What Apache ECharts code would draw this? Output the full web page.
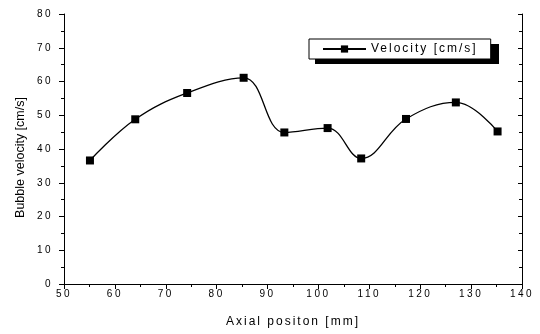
<!DOCTYPE html>
<html><head><meta charset="utf-8">
<script src="https://cdn.jsdelivr.net/npm/echarts@6/dist/echarts.min.js"></script>
<style>html,body{margin:0;padding:0;background:#fff}#c{width:540px;height:334px}</style>
</head><body><div id="c"></div>
<script>
const axialPosition = [55.1, 64.0, 74.2, 85.3, 93.3, 101.8, 108.4, 117.2, 127.0, 135.2];
const velocity = [36.6, 48.8, 56.6, 61.1, 44.9, 46.2, 37.2, 48.9, 53.8, 45.2];
const seriesName = 'Velocity [cm/s]';
const xTitle = 'Axial positon [mm]';
const yTitle = 'Bubble velocity [cm/s]';

// Origin-style spaced lettering (applied by font size; the 12.5px y-title stays unspaced)
(function () {
  const P = CanvasRenderingContext2D.prototype;
  if (!('letterSpacing' in P)) return;
  const spacing = (font) => {
    const m = /(\d+(?:\.\d+)?)px/.exec(font || '');
    const s = m ? +m[1] : 12;
    if (s >= 12.5) return '0px';
    if (s >= 12) return '2px';
    return '2.5px';
  };
  ['fillText', 'strokeText', 'measureText'].forEach((fn) => {
    const orig = P[fn];
    P[fn] = function () { this.letterSpacing = spacing(this.font); return orig.apply(this, arguments); };
  });
})();

const font = 'Liberation Sans, Arial, sans-serif';
const chart = echarts.init(document.getElementById('c'));
const tickStyle = {color: '#000', width: 1};
chart.setOption({
  animation: false,
  backgroundColor: '#fff',
  grid: {left: 64, right: 18, top: 14, bottom: 49, containLabel: false},
  graphic: [{
    type: 'text', x: 21, y: 157.5, rotation: Math.PI / 2,
    style: {text: yTitle, align: 'center', verticalAlign: 'middle',
            font: '12.5px Liberation Sans, Arial, sans-serif', fill: '#000'}
  }, {
    // drop shadow behind the legend frame
    type: 'rect', z: 1, shape: {x: 315, y: 44, width: 184, height: 20},
    style: {fill: '#000'}
  }],
  legend: {
    data: [seriesName],
    left: 309, top: 39, z: 10,
    backgroundColor: '#fff', borderColor: '#000', borderWidth: 1,
    padding: [3, 13, 3, 13],
    itemWidth: 43, itemHeight: 9, itemGap: 4,
    textStyle: {fontFamily: font, fontSize: 12, color: '#000'}
  },
  xAxis: [{
    type: 'value', min: 50, max: 140, interval: 10,
    name: xTitle, nameLocation: 'middle', nameGap: 31,
    nameTextStyle: {fontFamily: font, fontSize: 12, color: '#000'},
    axisLine: {lineStyle: {color: '#000', width: 1}},
    axisTick: {show: true, length: 5, lineStyle: tickStyle},
    minorTick: {show: true, splitNumber: 2, length: 3, lineStyle: tickStyle},
    axisLabel: {fontFamily: font, fontSize: 10, color: '#000', margin: 4},
    splitLine: {show: false}
  }, {
    type: 'value', position: 'top', min: 50, max: 140, interval: 10,
    axisLine: {show: true, lineStyle: {color: '#000', width: 1}},
    axisTick: {show: true, inside: true, length: 4, lineStyle: tickStyle},
    minorTick: {show: true, splitNumber: 2, length: 3, lineStyle: tickStyle},
    axisLabel: {show: false}, splitLine: {show: false}
  }],
  yAxis: [{
    type: 'value', min: 0, max: 80, interval: 10,
    axisLine: {show: true, lineStyle: {color: '#000', width: 1}},
    axisTick: {show: true, length: 5, lineStyle: tickStyle},
    minorTick: {show: true, splitNumber: 2, length: 3, lineStyle: tickStyle},
    axisLabel: {fontFamily: font, fontSize: 10, color: '#000', margin: 11},
    splitLine: {show: false}
  }, {
    type: 'value', position: 'right', min: 0, max: 80, interval: 10,
    axisLine: {show: true, lineStyle: {color: '#000', width: 1}},
    axisTick: {show: true, inside: true, length: 4, lineStyle: tickStyle},
    minorTick: {show: true, splitNumber: 2, length: 3, lineStyle: tickStyle},
    axisLabel: {show: false}, splitLine: {show: false}
  }],
  series: [{
    name: seriesName, type: 'line',
    data: axialPosition.map((x, i) => [x, velocity[i]]),
    smooth: 0.4,
    symbol: 'rect', symbolSize: 8,
    lineStyle: {color: '#000', width: 1.3},
    itemStyle: {color: '#000'}
  }]
});
</script></body></html>
